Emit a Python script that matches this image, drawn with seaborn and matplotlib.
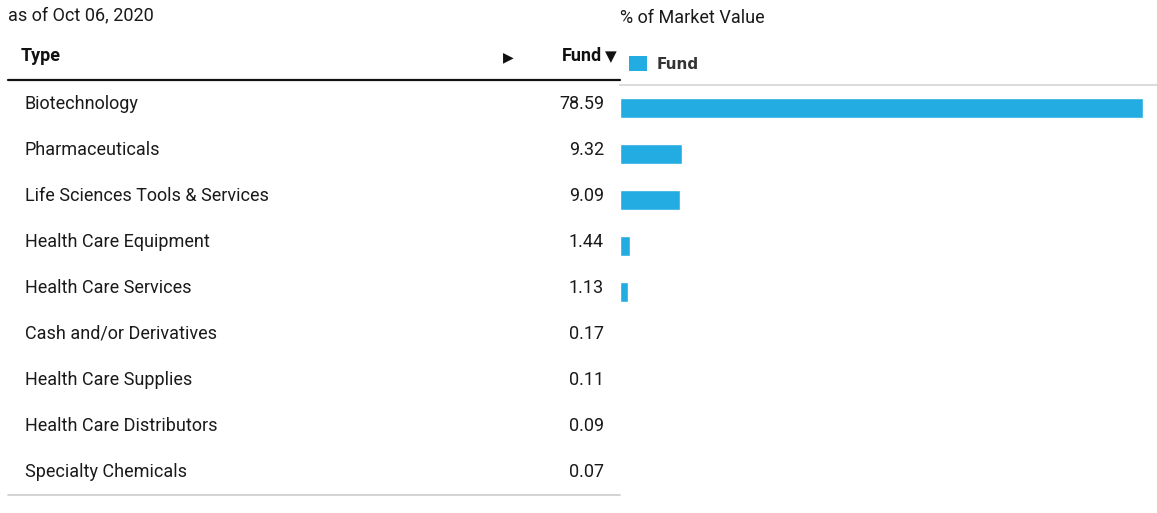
import matplotlib
matplotlib.use("Agg")
import matplotlib.pyplot as plt
import seaborn as sns
import pandas as pd
from matplotlib.patches import Patch
from matplotlib.lines import Line2D

categories = ["Biotechnology", "Pharmaceuticals", "Life Sciences Tools & Services",
              "Health Care Equipment", "Health Care Services", "Cash and/or Derivatives",
              "Health Care Supplies", "Health Care Distributors", "Specialty Chemicals"]
fund_values = [78.59, 9.32, 9.09, 1.44, 1.13, 0.17, 0.11, 0.09, 0.07]
value_labels = ["78.59", "9.32", "9.09", "1.44", "1.13", "0.17", "0.11", "0.09", "0.07"]
series_name = "Fund"

sns.set_theme(style="white")
plt.rcParams['font.family'] = ['Roboto', 'DejaVu Sans']

W, H = 1157, 513
fig = plt.figure(figsize=(W / 100, H / 100), dpi=100)

def fx(px):
    return px / W

def fy(py):
    return 1 - py / H

TXT = "#1a1a1a"
BLUE = "#23ACE1"
FS = 13

# bar axes
ax_top, ax_bot, ax_left, ax_right = 85, 499, 620, 1157
ax = fig.add_axes([fx(ax_left), fy(ax_bot), fx(ax_right - ax_left), (ax_bot - ax_top) / H])
df = pd.DataFrame({"Type": categories, "Value": fund_values, "Series": series_name})
sns.barplot(data=df, x="Value", y="Type", orient="h", color=BLUE, width=0.435,
            order=categories, ax=ax, saturation=1)
ax.set_xlim(0, max(fund_values) * (ax_right - ax_left) / 523)
ax.set_ylim(len(categories) - 0.5, -0.5)
ax.set_xlabel("")
ax.set_ylabel("")
ax.set_xticks([])
ax.set_yticks([])
for s in ["left", "right", "bottom"]:
    ax.spines[s].set_visible(False)
ax.spines["top"].set_color("#dcdcdc")
ax.spines["top"].set_linewidth(1.5)

# titles
fig.text(fx(8), fy(15), "as of Oct 06, 2020", fontsize=FS, color=TXT, va="center", ha="left")
fig.text(fx(620), fy(18), "% of Market Value", fontsize=FS, color=TXT, va="center", ha="left")

# legend
ax.legend(handles=[Patch(facecolor=BLUE, edgecolor="none", label=series_name)],
          loc="center left", bbox_to_anchor=(fx(629), fy(64)), bbox_transform=fig.transFigure,
          frameon=False, handlelength=1.2, handleheight=1.05, handletextpad=0.6,
          prop={"weight": "bold", "size": 11, "family": ["DejaVu Sans"]}, labelcolor="#333333",
          borderaxespad=0, borderpad=0)

# table header
fig.text(fx(21), fy(56), "Type", fontsize=FS, fontweight="bold", color="#111111", va="center", ha="left")
fig.text(fx(508), fy(57), "\u25B6", fontsize=10, color="#111111", va="center", ha="center",
         family=["DejaVu Sans"])
fig.text(fx(602), fy(56), "Fund", fontsize=FS, fontweight="bold", color="#111111", va="center", ha="right")
fig.text(fx(611), fy(57), "\u25BC", fontsize=11, color="#111111", va="center", ha="center",
         family=["DejaVu Sans"])
fig.add_artist(Line2D([fx(8), fx(620)], [fy(80), fy(80)], color="#111111", lw=1.6))
fig.add_artist(Line2D([fx(8), fx(620)], [fy(495), fy(495)], color="#cccccc", lw=1.2))

# table rows
for i, (cat, lab) in enumerate(zip(categories, value_labels)):
    y = 104 + 46 * i
    fig.text(fx(25), fy(y), cat, fontsize=FS, color=TXT, va="center", ha="left")
    fig.text(fx(604), fy(y), lab, fontsize=FS, color=TXT, va="center", ha="right")

fig.savefig("out.png", dpi=100)
